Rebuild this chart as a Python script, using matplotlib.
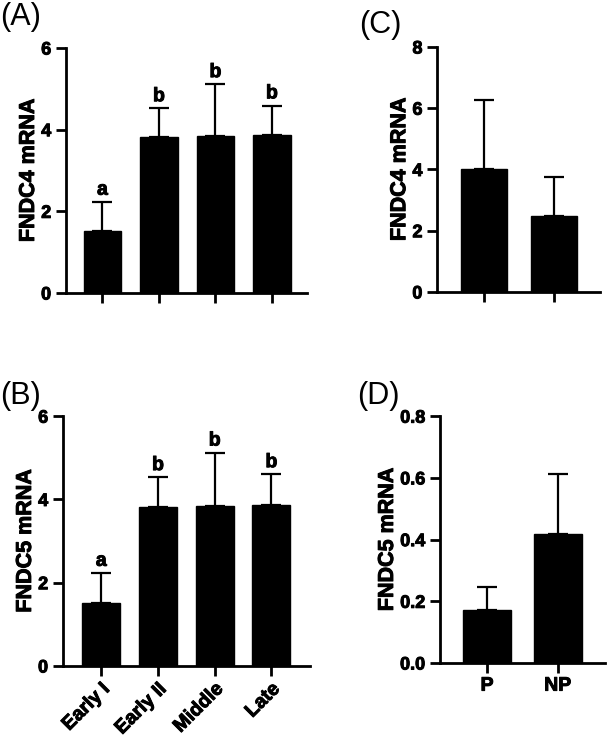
"""FNDC4 / FNDC5 mRNA bar panels."""
import matplotlib
matplotlib.use('Agg')
import matplotlib.pyplot as plt
import matplotlib.patheffects as pe

plt.rcParams['font.family'] = ['Liberation Sans', 'DejaVu Sans']
plt.rcParams['font.weight'] = 'bold'

# data
stages = ['Early I', 'Early II', 'Middle', 'Late']
fndc4_stage = [1.52, 3.82, 3.84, 3.86]
fndc4_stage_err = [0.71, 0.70, 1.27, 0.73]
fndc5_stage = [1.52, 3.82, 3.84, 3.87]
fndc5_stage_err = [0.71, 0.71, 1.28, 0.73]
stage_letters = ['a', 'b', 'b', 'b']

groups = ['P', 'NP']
fndc4_group = [4.01, 2.48]
fndc4_group_err = [2.26, 1.27]
fndc5_group = [0.173, 0.417]
fndc5_group_err = [0.073, 0.197]

# heavier strokes, the original uses a very black bold face
heavy = [pe.withStroke(linewidth=0.7, foreground='black')]

fig = plt.figure(figsize=(6.09, 7.39), dpi=100)

axA = fig.add_axes([0.108, 0.6035, 0.396, 0.3315])
axB = fig.add_axes([0.103, 0.0988, 0.406, 0.338])
axC = fig.add_axes([0.7176, 0.6049, 0.268, 0.3315])
axD = fig.add_axes([0.7225, 0.1028, 0.271, 0.334])


def style(ax):
    for s in ['top', 'right']:
        ax.spines[s].set_visible(False)
    for s in ['left', 'bottom']:
        ax.spines[s].set_linewidth(2)
    ax.tick_params(width=2, length=7.5, pad=3)
    ax.tick_params(axis='y', labelsize=13)
    ax.tick_params(axis='x', labelsize=14)
    for lab in ax.get_yticklabels() + ax.get_xticklabels():
        lab.set_fontweight('bold')
        lab.set_path_effects(heavy)
    ax.yaxis.label.set_path_effects(heavy)


def bars(ax, vals, errs, width):
    x = range(len(vals))
    ax.bar(x, vals, width=width, color='black', edgecolor='black')
    ax.errorbar(x, vals, yerr=[[0] * len(vals), errs], fmt='none',
                ecolor='black', elinewidth=1.6, capsize=7.5, capthick=1.6)
    return x


# (A)
x = bars(axA, fndc4_stage, fndc4_stage_err, 0.67)
axA.set_ylim(0, 6)
axA.set_yticks([0, 2, 4, 6])
axA.set_xlim(-0.65, 3.62)
axA.set_xticks(list(x))
axA.set_xticklabels([])
axA.set_ylabel('FNDC4 mRNA', fontsize=15.5, fontweight='bold', labelpad=1.5)
for i, t in enumerate(stage_letters):
    axA.text(i, fndc4_stage[i] + fndc4_stage_err[i] + 0.08, t, ha='center',
             va='bottom', fontsize=14, fontweight='bold', path_effects=heavy)
style(axA)

# (B)
x = bars(axB, fndc5_stage, fndc5_stage_err, 0.67)
axB.set_ylim(0, 6)
axB.set_yticks([0, 2, 4, 6])
axB.set_xlim(-0.68, 3.68)
axB.set_xticks(list(x))
axB.set_xticklabels(stages, rotation=45, ha='right', rotation_mode='anchor')
axB.set_ylabel('FNDC5 mRNA', fontsize=15.5, fontweight='bold', labelpad=1.5)
for i, t in enumerate(stage_letters):
    axB.text(i, fndc5_stage[i] + fndc5_stage_err[i] + 0.08, t, ha='center',
             va='bottom', fontsize=14, fontweight='bold', path_effects=heavy)
style(axB)

# (C)
x = bars(axC, fndc4_group, fndc4_group_err, 0.66)
axC.set_ylim(0, 8)
axC.set_yticks([0, 2, 4, 6, 8])
axC.set_xlim(-0.67, 1.66)
axC.set_xticks(list(x))
axC.set_xticklabels([])
axC.set_ylabel('FNDC4 mRNA', fontsize=15.5, fontweight='bold', labelpad=1.5)
style(axC)

# (D)
x = bars(axD, fndc5_group, fndc5_group_err, 0.68)
axD.set_ylim(0, 0.8)
axD.set_yticks([0, 0.2, 0.4, 0.6, 0.8])
axD.set_yticklabels(['0.0', '0.2', '0.4', '0.6', '0.8'])
axD.set_xlim(-0.665, 1.67)
axD.set_xticks(list(x))
axD.set_xticklabels(groups)
axD.set_ylabel('FNDC5 mRNA', fontsize=15.5, fontweight='bold', labelpad=1.5)
style(axD)

# panel letters
for lbl, px, py in [('(A)', 0, 25), ('(B)', 0, 404), ('(C)', 359, 33), ('(D)', 357, 404)]:
    fig.text(px / 609, 1 - py / 739, lbl, fontsize=22, fontweight='normal',
             ha='left', va='baseline')

plt.savefig('out.png', dpi=100)
plt.close()
print('Saved: out.png')
